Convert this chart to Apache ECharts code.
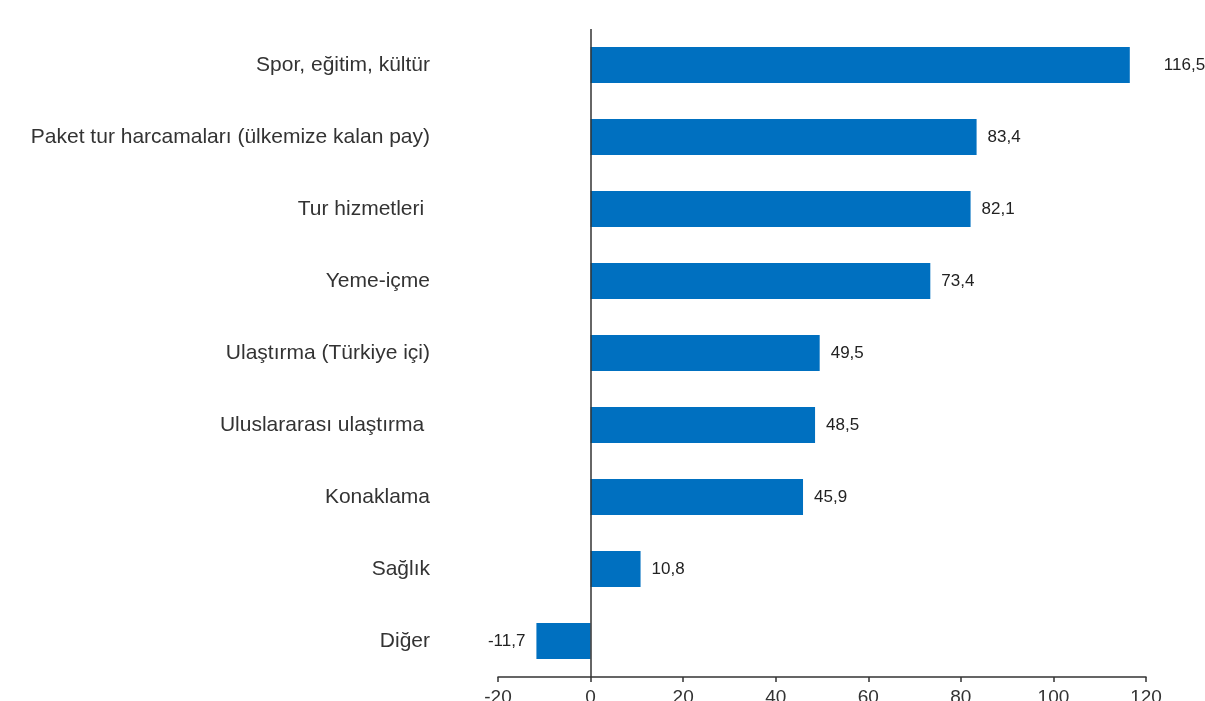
<!DOCTYPE html>
<html>
<head>
<meta charset="utf-8">
<script src="https://cdn.jsdelivr.net/npm/echarts@6/dist/echarts.min.js"></script>
<style>
  html, body { margin: 0; padding: 0; background: #fff; }
  #chart { width: 1205px; height: 701px; }
</style>
</head>
<body>
<div id="chart"></div>
<script>
// kategoriler (yukaridan asagiya)
var categories = [
  'Spor, eğitim, kültür',
  'Paket tur harcamaları (ülkemize kalan pay)',
  'Tur hizmetleri ',
  'Yeme-içme',
  'Ulaştırma (Türkiye içi)',
  'Uluslararası ulaştırma ',
  'Konaklama',
  'Sağlık',
  'Diğer'
];
var values = [116.5, 83.4, 82.1, 73.4, 49.5, 48.5, 45.9, 10.8, -11.7];
var xTicks = [-20, 0, 20, 40, 60, 80, 100, 120];

var barData = values.map(function (v, i) {
  return {
    value: v,
    label: {
      position: v < 0 ? 'left' : 'right',
      // en uzun cubugun etiketi biraz daha uzakta duruyor
      distance: i === 0 ? 34 : 11
    }
  };
});

var chart = echarts.init(document.getElementById('chart'));
var option = {
  backgroundColor: '#fff',
  animation: false,
  grid: {
    left: 498,
    right: 59,
    top: 29,
    bottom: 24,
    containLabel: false,
    outerBoundsMode: 'none'
  },
  xAxis: {
    type: 'value',
    min: xTicks[0],
    max: xTicks[xTicks.length - 1],
    interval: 20,
    axisLine: { show: true, lineStyle: { color: '#333', width: 1.5 } },
    axisTick: { show: true, length: 5, lineStyle: { color: '#333', width: 1.5 } },
    axisLabel: {
      color: '#333',
      fontSize: 19,
      fontFamily: 'Liberation Sans, Arial, sans-serif',
      margin: 11
    },
    splitLine: { show: false }
  },
  yAxis: {
    type: 'category',
    inverse: true,
    data: categories,
    axisLine: { show: false },
    axisTick: { show: false },
    axisLabel: {
      color: '#333',
      fontSize: 21,
      fontFamily: 'Liberation Sans, Arial, sans-serif',
      margin: 68
    },
    splitLine: { show: false }
  },
  series: [
    {
      type: 'bar',
      data: barData,
      barWidth: '50%',
      itemStyle: { color: '#0070C0' },
      label: {
        show: true,
        color: '#222',
        fontSize: 17,
        fontFamily: 'Liberation Sans, Arial, sans-serif',
        formatter: function (p) {
          return String(p.value).replace('.', ',');
        }
      },
      markLine: {
        silent: true,
        symbol: 'none',
        label: { show: false },
        lineStyle: { color: '#333', width: 1.5, type: 'solid' },
        data: [{ xAxis: 0 }]
      }
    }
  ]
};
chart.setOption(option);
</script>
</body>
</html>
